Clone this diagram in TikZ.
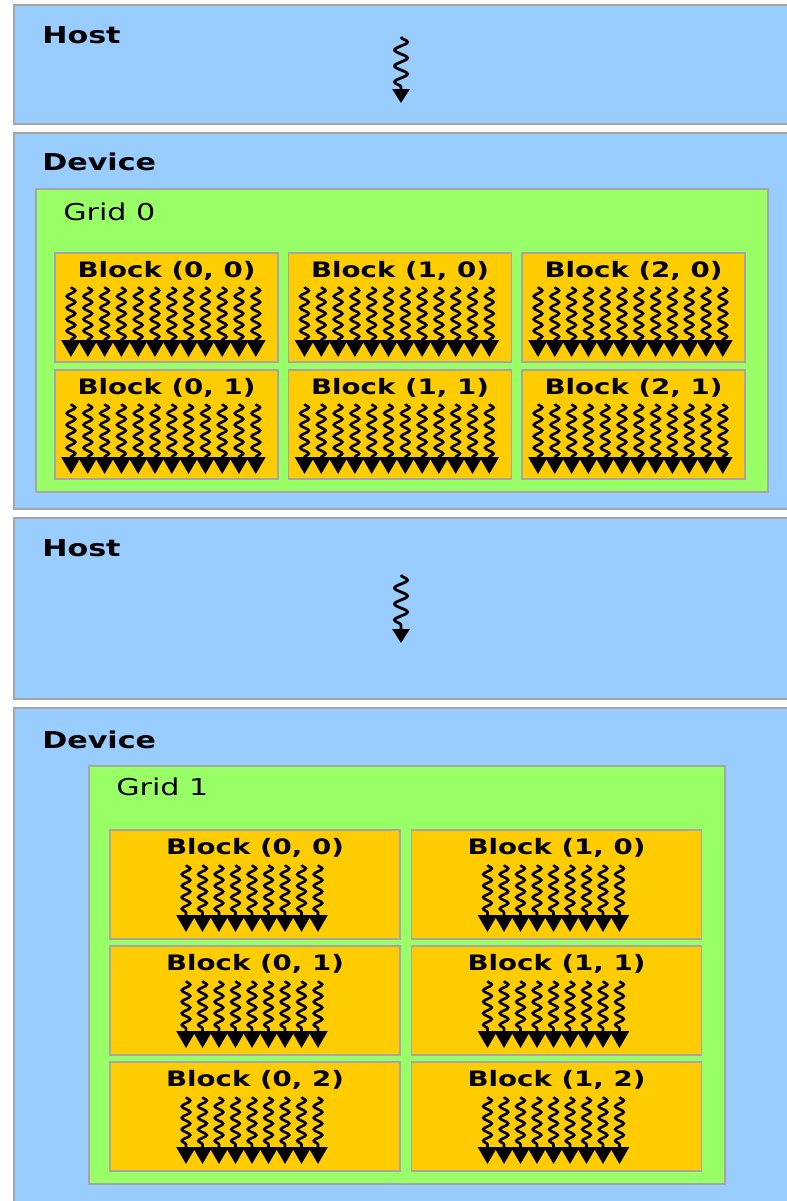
\documentclass[tikz,border=0pt]{standalone}
\usepackage{fontspec}
\newfontfamily\vfont[FakeStretch=1.3]{DejaVu Sans}
\usetikzlibrary{arrows.meta,decorations.pathmorphing}
\definecolor{hostblue}{HTML}{99CCFF}
\definecolor{gridgreen}{HTML}{99FF66}
\definecolor{blockorange}{HTML}{FFCC00}
\tikzset{
  panel/.style={fill=hostblue, draw=gray!70, line width=0.85pt},
  gridbox/.style={fill=gridgreen, draw=gray!70, line width=0.85pt},
  blockbox/.style={fill=blockorange, draw=gray!70, line width=0.85pt},
  title/.style={anchor=west, inner sep=0pt, font=\vfont\bfseries\fontsize{13.2}{16}\selectfont},
  gridtitle/.style={anchor=west, inner sep=0pt, font=\vfont\fontsize{13.2}{16}\selectfont},
  blocktitle/.style={inner sep=0pt, font=\vfont\bfseries\fontsize{12.1}{14}\selectfont},
  thread/.style={line width=1.5pt, decorate,
    decoration={snake, amplitude=0.085cm, segment length=0.23cm, post length=0.32cm},
    -{Triangle[width=0.38cm,length=0.34cm]}},
  hostthread/.style={line width=1.6pt, decorate,
    decoration={snake, amplitude=0.13cm, segment length=0.32cm, post length=0.26cm},
    -{Triangle[width=0.34cm,length=0.28cm]}}
}
\begin{document}
\begin{tikzpicture}[x=0.02cm, y=-0.02cm]
  \clip (0,0) rectangle (787,1201);
  \fill[white] (0,0) rectangle (787,1201);
  % Host arriba
  \draw[panel] (14,5) rectangle (800,124);
  \node[title] (host1) at (42,35) {Host};
  \draw[hostthread] (401,37) -- (401,103);
  % Device con Grid 0
  \draw[panel] (14,133) rectangle (800,509);
  \node[title] (dev1) at (42,162) {Device};
  \draw[gridbox] (36,189) rectangle (768,492);
  \node[gridtitle] (grid0) at (63,212) {Grid 0};
  \foreach \i in {0,1,2}
    \foreach \j in {0,1} {
      \draw[blockbox] ({55+233.5*\i},{253+117*\j}) rectangle ++(223,109);
      \node[blocktitle] (ga-\i-\j) at ({166.5+233.5*\i},{271+117*\j}) {Block (\i, \j)};
      \foreach \k in {0,...,11}
        \draw[thread] ({71+233.5*\i+16.8*\k},{287+117*\j}) -- ++(0,70);
    }
  % Host abajo
  \draw[panel] (14,518) rectangle (800,699);
  \node[title] (host2) at (42,548) {Host};
  \draw[hostthread] (401,575) -- (401,643);
  % Device con Grid 1
  \draw[panel] (14,708) rectangle (800,1220);
  \node[title] (dev2) at (42,740) {Device};
  \draw[gridbox] (89,766) rectangle (725,1184);
  \node[gridtitle] (grid1) at (116,787) {Grid 1};
  \foreach \i in {0,1}
    \foreach \j in {0,1,2} {
      \draw[blockbox] ({110+301.5*\i},{830+116*\j}) rectangle ++(290,109);
      \node[blocktitle] (gb-\i-\j) at ({255+301.5*\i},{848+116*\j}) {Block (\i, \j)};
      \foreach \k in {0,...,8}
        \draw[thread] ({186+301.5*\i+16.5*\k},{865+116*\j}) -- ++(0,67);
    }
\end{tikzpicture}
\end{document}
